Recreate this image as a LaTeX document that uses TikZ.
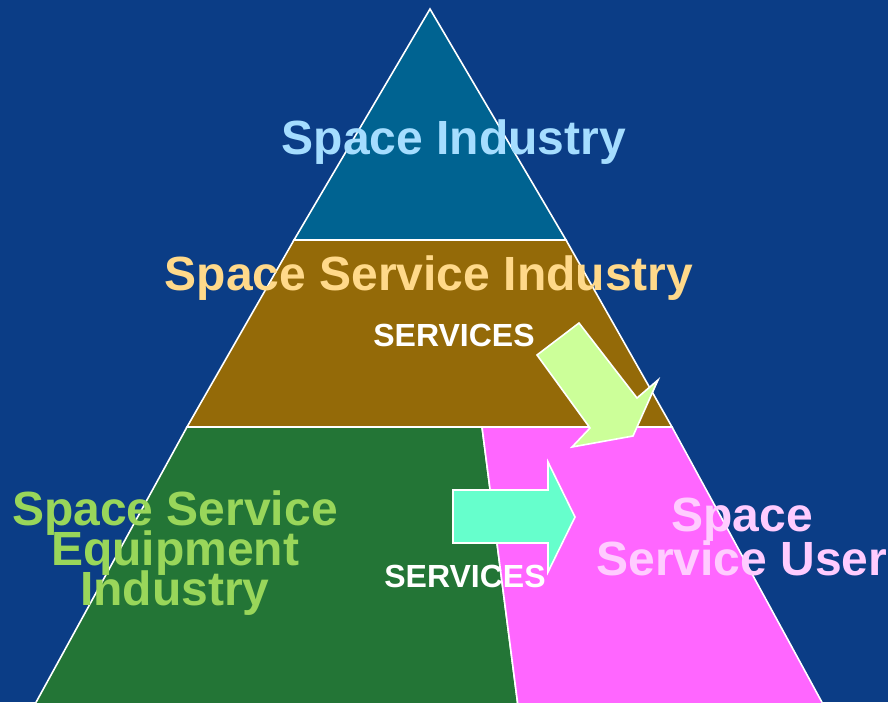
\documentclass[tikz,border=0pt]{standalone}
\usepackage{fontspec}
\setmainfont{Liberation Sans}
\definecolor{bg}{HTML}{0B3D86}
\definecolor{teal}{HTML}{006391}
\definecolor{brownband}{HTML}{946A08}
\definecolor{greenband}{HTML}{237536}
\definecolor{pinkband}{HTML}{FF66FF}
\definecolor{yarrow}{HTML}{CCFF99}
\definecolor{carrow}{HTML}{66FFCC}
\definecolor{tblue}{HTML}{A5DDFF}
\definecolor{tyellow}{HTML}{FFD98A}
\definecolor{tgreen}{HTML}{99D65A}
\definecolor{tpink}{HTML}{FFCCFF}
\newcommand\mytightlines{\lineskiplimit=-100pt\relax}
\tikzset{
  band/.style={draw=white, line width=1.6pt, line join=miter},
  blockarrow/.style={draw=white, line width=1.6pt, line join=miter},
  bigtext/.style={font=\bfseries\fontsize{48}{40}\selectfont\mytightlines, inner sep=0pt, align=center},
  smalltext/.style={font=\bfseries\fontsize{32}{36}\selectfont, text=white, inner sep=0pt}
}
\begin{document}
\begin{tikzpicture}[x=1pt,y=-1pt]
\fill[bg] (0,0) rectangle (888,702);
\useasboundingbox (0,0) rectangle (888,702);
\begin{scope}
\clip (0,0) rectangle (888,702);
% bands
\filldraw[band, fill=teal] (430,9) -- (294,240) -- (566,240) -- cycle;
\filldraw[band, fill=brownband] (294,240) -- (566,240) -- (672,427) -- (187,427) -- cycle;
\filldraw[band, fill=greenband] (187,427) -- (482,427) -- (518,706) -- (34,706) -- cycle;
\filldraw[band, fill=pinkband] (482,427) -- (672,427) -- (824,706) -- (518,706) -- cycle;
% arrows
\filldraw[blockarrow, fill=yarrow] (579,323) -- (637,398) -- (658,380) -- (633,436) -- (572,447) -- (590,428) -- (537,355) -- cycle;
\filldraw[blockarrow, fill=carrow] (453,490) -- (548,490) -- (548,462) -- (575,517) -- (548,572) -- (548,543) -- (453,543) -- cycle;
\end{scope}
% texts
\node[bigtext, text=tblue, anchor=base] (t1) at (454,154) {Space Industry};
\node[bigtext, text=tyellow, anchor=base] (t2) at (429,290) {Space Service Industry};
\node[smalltext, anchor=base] (s1) at (454,346) {SERVICES};
\node[smalltext, anchor=base] (s2) at (465,587) {SERVICES};
\node[bigtext, text=tgreen, anchor=base] (t3) at (175,605) {Space Service\\Equipment\\Industry};
\node[bigtext, text=tpink, anchor=base, font=\bfseries\fontsize{48}{44}\selectfont\mytightlines] (t4) at (742,575) {Space\\Service User};
\end{tikzpicture}
\end{document}
